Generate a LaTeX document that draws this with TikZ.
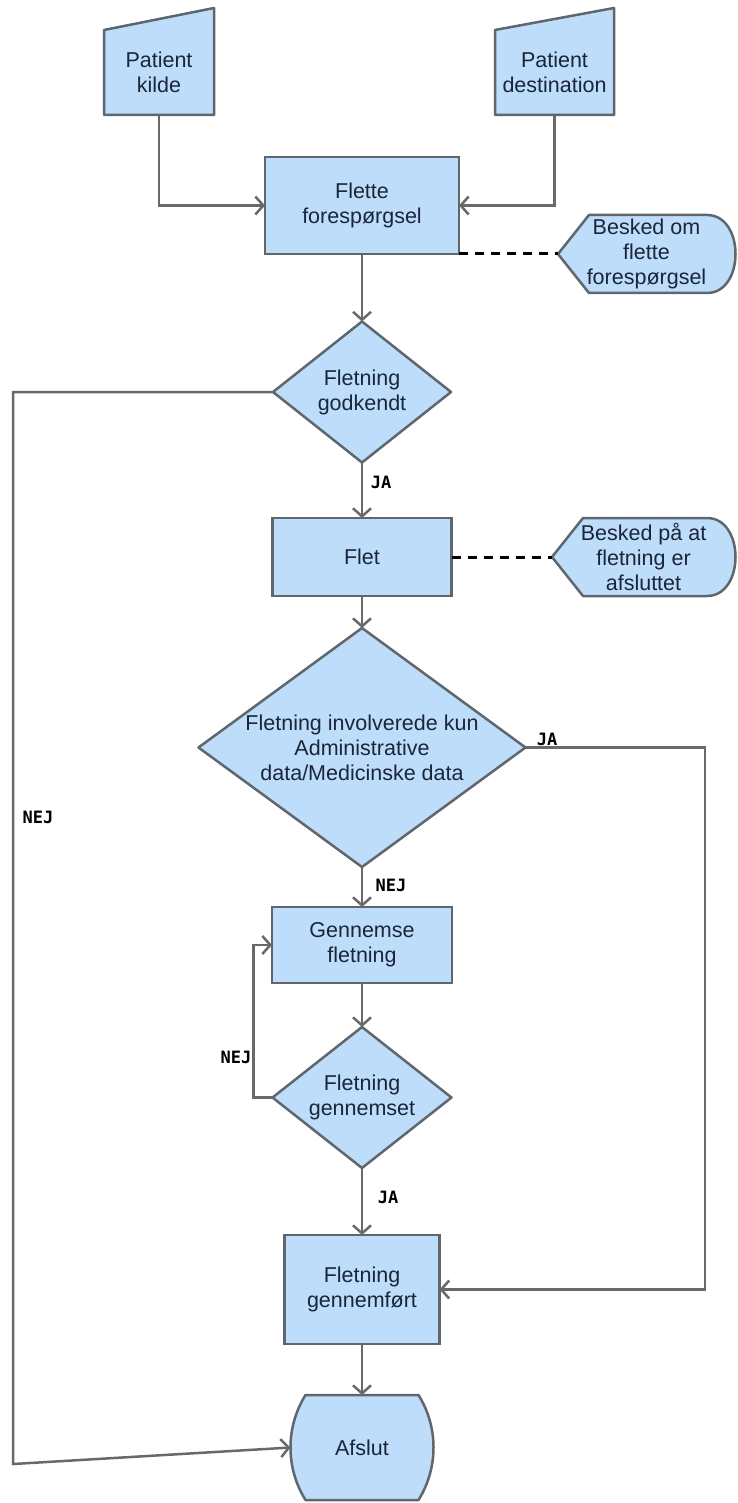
\documentclass[tikz,border=0pt]{standalone}
\usepackage{fontspec}
\setmainfont{Liberation Sans}
\newfontfamily\lblfont{DejaVu Sans Mono}
\usetikzlibrary{arrows.meta,backgrounds}

\definecolor{boxfill}{RGB}{190,221,250}
\definecolor{boxline}{RGB}{95,102,108}
\definecolor{conline}{RGB}{105,105,105}
\definecolor{txt}{RGB}{25,38,58}

\tikzset{
  every node/.style={font=\fontsize{21.5}{25}\selectfont, text=txt, align=center, inner sep=0pt, outer sep=0pt},
  proc/.style={draw=boxline, fill=boxfill, line width=2.5pt},
  shp/.style={draw=boxline, fill=boxfill, line width=2.5pt, line join=round},
  conn/.style={draw=conline, line width=2.5pt, -{Straight Barb[length=8pt,width=18pt]}},
  notice/.style={draw=black, line width=3pt, dash pattern=on 9pt off 7pt},
  lbl/.style={font=\lblfont\bfseries\fontsize{17}{17}\selectfont, text=black},
}

\begin{document}
\begin{tikzpicture}[x=1pt,y=-1pt]
\useasboundingbox (0,0) rectangle (737,1503);

% inputs
\node[minimum width=110pt, minimum height=85pt] (kilde) at (159,72.5) {Patient\\kilde};
\node[minimum width=119pt, minimum height=85pt] (dest) at (554.5,72.5) {Patient\\destination};

% main column
\node[proc, minimum width=194pt, minimum height=97pt] (flette) at (362,205.5) {Flette\\forespørgsel};
\node[minimum width=178pt, minimum height=141pt] (godk) at (362,392) {Fletning\\godkendt};
\node[proc, minimum width=179pt, minimum height=78pt] (flet) at (362,557) {Flet};
\node[minimum width=327pt, minimum height=239pt] (invol) at (362,747.5) {Fletning involverede kun\\Administrative\\data/Medicinske data};
\node[proc, minimum width=180pt, minimum height=76pt] (gennemse) at (362,945) {Gennemse\\fletning};
\node[minimum width=179pt, minimum height=141pt] (genset) at (362,1097.5) {Fletning\\gennemset};
\node[proc, minimum width=155pt, minimum height=109pt] (gfoert) at (362,1289.5) {Fletning\\gennemført};
\node[minimum width=143pt, minimum height=105pt] (afslut) at (362,1447.5) {Afslut};

% messages
\node[minimum width=177pt, minimum height=78pt] (besked1) at (646.5,254) {Besked om\\flette\\forespørgsel};
\node[minimum width=183pt, minimum height=78pt] (besked2) at (643.5,557) {Besked på at\\fletning er\\afsluttet};

% shapes behind the texts
\begin{scope}[on background layer]
  \foreach \n in {kilde,dest}
    \filldraw[shp] (\n.south west) -- (\n.north west) -- ([yshift=22pt]\n.north east) -- (\n.south east) -- cycle;
  \foreach \n in {godk,invol,genset}
    \filldraw[shp] (\n.north) -- (\n.east) -- (\n.south) -- (\n.west) -- cycle;
  \foreach \n in {besked1,besked2}
    \filldraw[shp] (\n.west) -- ([xshift=31pt]\n.north west) -- ([xshift=-28pt]\n.north east)
      .. controls ([xshift=10pt]\n.north east) and ([xshift=10pt]\n.south east) .. ([xshift=-28pt]\n.south east)
      -- ([xshift=31pt]\n.south west) -- cycle;
  \filldraw[shp] ([xshift=15pt]afslut.north west) -- ([xshift=-15pt]afslut.north east)
    .. controls ([xshift=5pt,yshift=-32pt]afslut.north east) and ([xshift=5pt,yshift=32pt]afslut.south east) .. ([xshift=-15pt]afslut.south east)
    -- ([xshift=15pt]afslut.south west)
    .. controls ([xshift=-5pt,yshift=32pt]afslut.south west) and ([xshift=-5pt,yshift=-32pt]afslut.north west) .. ([xshift=15pt]afslut.north west) -- cycle;
\end{scope}

% labels
\node[lbl] (ja1) at (381,482) {JA};
\node[lbl] (ja2) at (547,739) {JA};
\node[lbl] (nej1) at (391,885) {NEJ};
\node[lbl] (nej2) at (38,817) {NEJ};
\node[lbl] (nej3) at (236,1057) {NEJ};
\node[lbl] (ja3) at (388,1197) {JA};

\coordinate (nejc) at (13,1464);
\coordinate (jac) at (705,1289.5);

% connectors
\draw[conn] (kilde.south) |- (flette.west);
\draw[conn] (dest.south) |- (flette.east);
\draw[notice] (flette.south east) -- (besked1.west);
\draw[conn] (flette.south) -- (godk.north);
\draw[conn] (godk.west) -| (nejc) -- (afslut.west);
\draw[conn] (godk.south) -- (flet.north);
\draw[notice] (flet.east) -- (besked2.west);
\draw[conn] (flet.south) -- (invol.north);
\draw[conn] (invol.east) -| (jac) -- (gfoert.east);
\draw[conn] (invol.south) -- (gennemse.north);
\draw[conn] (gennemse.south) -- (genset.north);
\draw[conn] (genset.west) -- ++(-19,0) |- (gennemse.west);
\draw[conn] (genset.south) -- (gfoert.north);
\draw[conn] (gfoert.south) -- (afslut.north);
\end{tikzpicture}
\end{document}
